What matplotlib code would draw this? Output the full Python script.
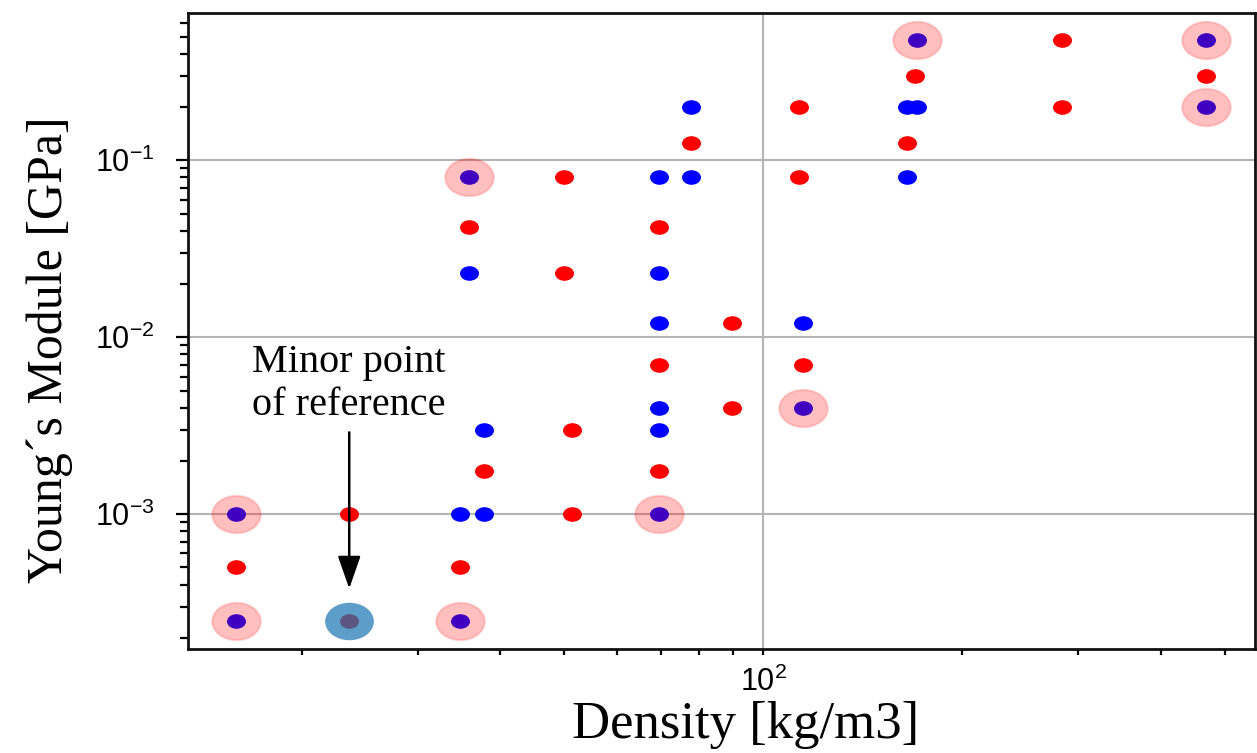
import matplotlib
matplotlib.use("Agg")
import matplotlib.pyplot as plt
import numpy as np
from matplotlib.path import Path
from matplotlib.ticker import LogLocator, NullFormatter, FuncFormatter

# density [kg/m3] and Young's module [GPa]
red_x = [15.9, 23.6, 34.7, 51.4, 37.8, 69.6, 51.4, 89.8, 69.6, 115.0, 89.8,
         49.9, 35.8, 69.6, 49.9, 113.4, 77.8, 165.0, 113.4, 284.0, 170.0, 469.0, 284.0]
red_y = [0.0005, 0.001, 0.0005, 0.001, 0.00175, 0.00175, 0.003, 0.004, 0.007, 0.007, 0.012,
         0.023, 0.042, 0.042, 0.08, 0.08, 0.125, 0.125, 0.2, 0.2, 0.3, 0.3, 0.48]

blue_x = [34.7, 37.8, 37.8, 69.6, 69.6, 69.6, 115.0, 35.8, 69.6,
          69.6, 77.8, 165.0, 77.8, 165.0, 171.0]
blue_y = [0.001, 0.001, 0.003, 0.003, 0.004, 0.012, 0.012, 0.023, 0.023,
          0.08, 0.08, 0.08, 0.2, 0.2, 0.2]

# highlighted points (blue dot with a red halo)
mark_x = [15.9, 15.9, 34.7, 69.6, 115.0, 35.8, 171.0, 469.0, 469.0]
mark_y = [0.001, 0.00025, 0.00025, 0.001, 0.004, 0.08, 0.48, 0.48, 0.2]

# the minor point of reference
ref_x = [23.6]
ref_y = [0.00025]
red_x.append(ref_x[0])
red_y.append(ref_y[0])

# the source picture is stretched sideways, so use slightly flat markers
circle = Path.unit_circle()
ellipse = Path(circle.vertices * np.array([1.3, 1.0]), circle.codes)

plt.rcParams['mathtext.fontset'] = 'custom'
plt.rcParams['mathtext.rm'] = 'Liberation Sans'
plt.rcParams['mathtext.it'] = 'Liberation Sans:italic'
plt.rcParams['mathtext.bf'] = 'Liberation Sans:bold'

fig = plt.figure(figsize=(12.57, 7.53), dpi=100)
ax = fig.add_axes([0.1496, 0.1381, 0.8488, 0.8446])

ax.scatter(red_x, red_y, s=187, marker=ellipse, color='#ff0000', lw=0, zorder=3)
ax.scatter(blue_x + mark_x, blue_y + mark_y, s=187, marker=ellipse, color='#0000ff', lw=0, zorder=4)
ax.scatter(mark_x, mark_y, s=1230, marker=ellipse, facecolor=(1, 0, 0, 0.25),
           edgecolor=(1, 0, 0, 0.15), lw=1.5, zorder=5)
ax.scatter(ref_x, ref_y, s=1230, marker=ellipse, color='#1f77b4', alpha=0.72, lw=0, zorder=6)

ax.set_xscale('log')
ax.set_yscale('log')
ax.set_xlim(13.45, 556)
ax.set_ylim(1.73e-4, 0.68)

ax.xaxis.set_major_locator(LogLocator(base=10))
ax.xaxis.set_minor_locator(LogLocator(base=10, subs=np.arange(2, 10)))
ax.yaxis.set_major_locator(LogLocator(base=10))
ax.yaxis.set_minor_locator(LogLocator(base=10, subs=np.arange(2, 10)))
fmt = FuncFormatter(lambda v, pos: r'$\mathregular{10^{%d}}$' % int(round(np.log10(v))))
ax.xaxis.set_major_formatter(fmt)
ax.yaxis.set_major_formatter(fmt)
ax.xaxis.set_minor_formatter(NullFormatter())
ax.yaxis.set_minor_formatter(NullFormatter())

ax.grid(which='major', color='#b4b4b4', lw=1.5)
ax.set_axisbelow(True)

for side in ['left', 'bottom', 'top', 'right']:
    ax.spines[side].set_linewidth(2.0)
    ax.spines[side].set_color('#111111')

ax.tick_params(axis='y', which='major', direction='out', length=9, width=1.6,
               pad=15, labelsize=22, labelfontfamily='Liberation Sans')
ax.tick_params(axis='y', which='minor', direction='out', length=5.5, width=1.6)
ax.tick_params(axis='x', which='major', direction='out', length=4.5, width=1.6,
               pad=8, labelsize=22, labelfontfamily='Liberation Sans')
ax.tick_params(axis='x', which='minor', direction='out', length=4.5, width=1.6)

ax.set_xlabel('Density [kg/m3]', fontsize=38, family='Liberation Serif')
ax.set_ylabel('Young\u00b4s Module [GPa]', fontsize=36, family='Liberation Serif')
ax.xaxis.set_label_coords(0.523, -0.082)
ax.yaxis.set_label_coords(-0.108, 0.47)

# note and arrow pointing at the reference point
ax.text(ref_x[0], 3.25e-3, 'Minor point\nof reference', ha='center', va='bottom',
        fontsize=29, family='Liberation Serif', linespacing=1.2, zorder=7)
ax.annotate('', xy=(ref_x[0], 3.8e-4), xytext=(ref_x[0], 2.9e-3),
            arrowprops=dict(arrowstyle='-|>,head_length=2.0,head_width=0.7',
                            color='black', lw=1.8, shrinkA=0, shrinkB=0,
                            mutation_scale=10), zorder=7)

fig.savefig('out.png', dpi=100)
